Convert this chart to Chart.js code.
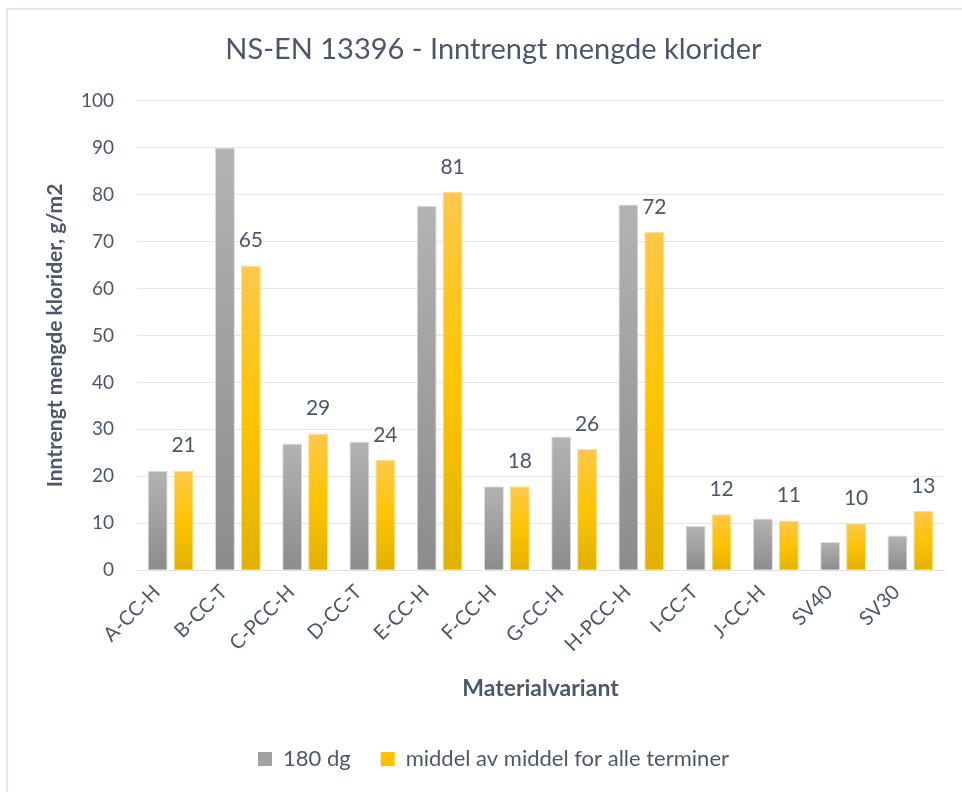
<!DOCTYPE html>
<html>
<head>
<meta charset="utf-8">
<title>NS-EN 13396 - Inntrengt mengde klorider</title>
<script src="https://cdn.jsdelivr.net/npm/chart.js@4.4.1/dist/chart.umd.min.js"></script>
<style>
  html, body { margin: 0; padding: 0; background: #fff; }
  #wrap { position: absolute; left: 6px; top: 8px; width: 956px; height: 784px;
          border-left: 2px solid #E1E6EE; border-top: 2px solid #E1E6EE; box-sizing: border-box; }
  #chart { position: absolute; left: 0; top: 0; }
</style>
</head>
<body>
<div id="wrap"></div>
<canvas id="chart" width="962" height="792"></canvas>
<script>
// Chart data
const categories = ['A-CC-H', 'B-CC-T', 'C-PCC-H', 'D-CC-T', 'E-CC-H', 'F-CC-H',
                    'G-CC-H', 'H-PCC-H', 'I-CC-T', 'J-CC-H', 'SV40', 'SV30'];
const seriesNames = ['180 dg', 'middel av middel for alle terminer'];
const values180 = [21.2, 90.0, 27.0, 27.4, 77.6, 17.9, 28.5, 77.9, 9.4, 11.0, 6.0, 7.4];
const valuesMiddel = [21.2, 64.9, 29.1, 23.5, 80.6, 17.9, 25.8, 72.1, 11.9, 10.6, 10.0, 12.6];
const yTicks = [0, 10, 20, 30, 40, 50, 60, 70, 80, 90, 100];

const textColor = '#4B586B';
const fontFamily = 'Lato, "Open Sans", sans-serif';

// per-bar vertical gradient
function barGradient(stops) {
  return (ctx) => {
    const chart = ctx.chart;
    if (!chart.chartArea || ctx.raw === undefined) return stops[stops.length - 1][1];
    const y = chart.scales.y;
    const top = y.getPixelForValue(ctx.raw);
    const base = y.getPixelForValue(0);
    if (!isFinite(top) || base - top < 1) return stops[0][1];
    const g = chart.ctx.createLinearGradient(0, top, 0, base);
    stops.forEach(s => g.addColorStop(s[0], s[1]));
    return g;
  };
}

const grayStops = [[0, '#B3B3B3'], [1, '#8C8C8C']];
const yellowStops = [[0, '#FFC84A'], [0.5, '#FFC400'], [1, '#E1B100']];

// labels above the second series
const valueLabels = {
  id: 'valueLabels',
  afterDatasetsDraw(chart) {
    const ctx = chart.ctx;
    const meta = chart.getDatasetMeta(1);
    ctx.save();
    ctx.font = '21px ' + fontFamily;
    ctx.fillStyle = textColor;
    ctx.textAlign = 'center';
    ctx.textBaseline = 'middle';
    meta.data.forEach((bar, i) => {
      ctx.fillText(Math.round(valuesMiddel[i]), bar.x, bar.y - 25);
    });
    ctx.restore();
  }
};

new Chart(document.getElementById('chart'), {
  type: 'bar',
  data: {
    labels: categories,
    datasets: [{
      label: seriesNames[0],
      data: values180,
      backgroundColor: barGradient(grayStops),
      borderColor: 'rgba(215,215,215,0.9)',
      borderWidth: 1,
      borderSkipped: 'bottom'
    }, {
      label: seriesNames[1],
      data: valuesMiddel,
      backgroundColor: barGradient(yellowStops),
      borderColor: 'rgba(255,220,120,0.9)',
      borderWidth: 1,
      borderSkipped: 'bottom'
    }]
  },
  options: {
    responsive: false,
    animation: false,
    layout: { padding: { left: 43, right: 18, top: 0, bottom: 12 } },
    datasets: { bar: { categoryPercentage: 0.77, barPercentage: 0.77 } },
    scales: {
      x: {
        grid: { display: false, drawTicks: false },
        border: { display: true, color: '#DCE0E6', width: 1 },
        ticks: {
          color: textColor, font: { family: fontFamily, size: 20 },
          maxRotation: 45, minRotation: 45, padding: 10, labelOffset: -14
        },
        title: {
          display: true, text: 'Materialvariant', color: textColor,
          font: { family: fontFamily, size: 23, weight: 'bold' }, padding: { top: 8, bottom: 16 }
        }
      },
      y: {
        min: 0, max: 100,
        afterBuildTicks: (axis) => { axis.ticks = yTicks.map(v => ({ value: v })); },
        afterFit: (axis) => { axis.width = 94; },
        grid: { color: '#E3E6EB', drawTicks: false },
        border: { display: false },
        ticks: { color: textColor, font: { family: fontFamily, size: 19 }, padding: 23 },
        title: {
          display: true, text: 'Inntrengt mengde klorider, g/m2', color: textColor,
          font: { family: fontFamily, size: 21, weight: 'bold' }, padding: { top: 0, bottom: 14 }
        }
      }
    },
    plugins: {
      title: {
        display: true, text: 'NS-EN 13396 - Inntrengt mengde klorider', color: textColor,
        font: { family: fontFamily, size: 29, weight: 'normal' }, padding: { top: 32, bottom: 34 }
      },
      legend: {
        position: 'bottom',
        labels: {
          color: textColor, font: { family: fontFamily, size: 22 },
          boxWidth: 14, boxHeight: 14, padding: 30,
          generateLabels: (chart) => chart.data.datasets.map((ds, i) => ({
            text: ds.label,
            fillStyle: i === 0 ? '#A0A0A0' : '#FFC000',
            strokeStyle: i === 0 ? '#A0A0A0' : '#FFC000',
            lineWidth: 0,
            datasetIndex: i,
            fontColor: textColor
          }))
        }
      },
      tooltip: { enabled: false }
    }
  },
  plugins: [valueLabels]
});
</script>
</body>
</html>
